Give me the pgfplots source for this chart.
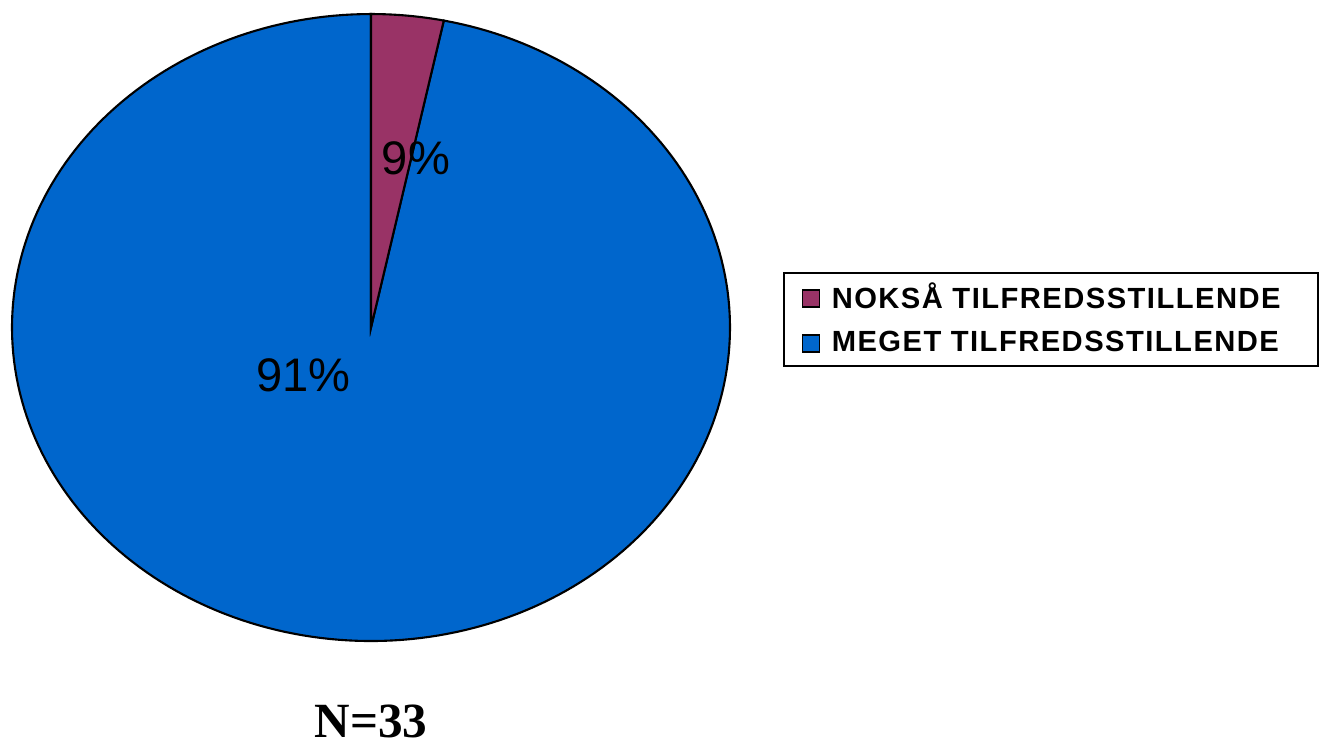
\documentclass[border=0pt]{standalone}
\usepackage{fontspec}
\setmainfont{Liberation Sans}
\newfontfamily\legfont[LetterSpace=5]{Liberation Sans}
\newfontfamily\timesfont{Liberation Serif}
\usepackage{pgfplots}
\pgfplotsset{compat=1.18}
\usepackage{pgfplotstable}
\definecolor{noksa}{HTML}{993366}
\definecolor{meget}{HTML}{0066CC}

% share = part of the circle as drawn, lbl = printed percentage
\pgfplotstableread{
share lbl
3.25  9
96.75 91
}\piedata

\begin{document}
\begin{tikzpicture}
\pgfplotstablegetelem{0}{share}\of\piedata \let\sA\pgfplotsretval
\pgfplotstablegetelem{1}{share}\of\piedata \let\sB\pgfplotsretval
\pgfplotstablegetelem{0}{lbl}\of\piedata \let\lA\pgfplotsretval
\pgfplotstablegetelem{1}{lbl}\of\piedata \let\lB\pgfplotsretval
\pgfmathsetmacro\angA{90-3.6*\sA}
\pgfmathsetmacro\angB{\angA-3.6*\sB}
\begin{axis}[
  scale only axis, width=7.18cm, height=6.27cm,
  xmin=-1, xmax=1, ymin=-1, ymax=1,
  axis lines=none, clip=false,
  legend style={draw=black, line width=0.6pt, at={(axis cs:1.1476,0.177)}, anchor=north west,
    font=\legfont\bfseries\fontsize{8.3}{10}\selectfont, row sep=0.025cm,
    inner xsep=0.18cm, inner ysep=0.03cm, cells={anchor=west}},
  legend image code/.code={\draw[#1, draw=black, line width=0.4pt] (0cm,-0.085cm) rectangle (0.17cm,0.085cm);
    \path[draw=none, fill=none] (0.17cm,0) -- (0.22cm,0);},
]
\addplot[fill=meget, draw=black, line width=0.6pt, domain=\angB:\angA, samples=240, variable=\t, forget plot]
  ({cos(t)},{sin(t)}) -- (axis cs:0,0) -- cycle;
\addplot[fill=noksa, draw=black, line width=0.6pt, domain=\angA:90, samples=20, variable=\t, forget plot]
  ({cos(t)},{sin(t)}) -- (axis cs:0,0) -- cycle;
\addlegendimage{fill=noksa}
\addlegendentry{NOKSÅ TILFREDSSTILLENDE\rule{0.12cm}{0pt}}
\addlegendimage{fill=meget}
\addlegendentry{MEGET TILFREDSSTILLENDE\rule{0.12cm}{0pt}}
\node[font=\fontsize{13.4}{16}\selectfont] at (axis cs:0.125,0.541) {\lA\%};
\node[font=\fontsize{13.4}{16}\selectfont] at (axis cs:-0.189,-0.152) {\lB\%};
\node[font=\timesfont\bfseries\fontsize{14}{16}\selectfont] at (axis cs:0,-1.258) {N=33};
\coordinate (bl) at (axis cs:-1.0334,-1.3158);
\coordinate (tr) at (axis cs:2.6407,1.0447);
\end{axis}
\useasboundingbox (bl) rectangle (tr);
\end{tikzpicture}
\end{document}
